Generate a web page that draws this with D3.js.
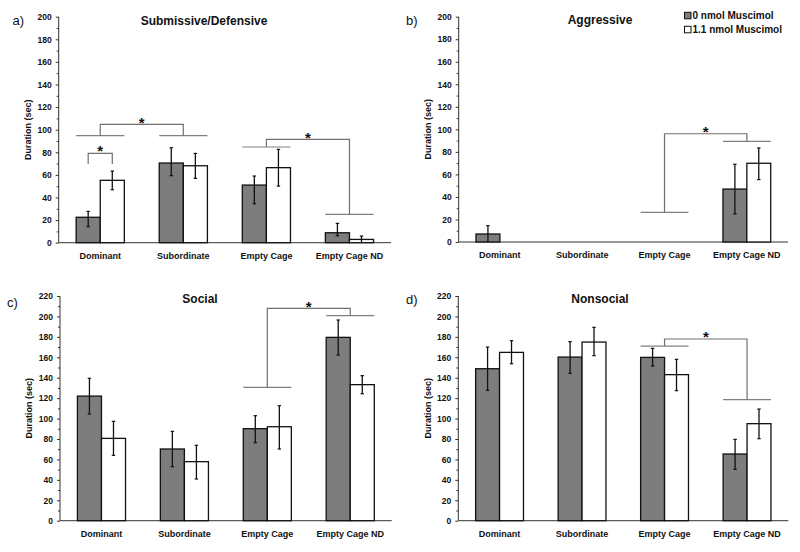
<!DOCTYPE html>
<html>
<head>
<meta charset="utf-8">
<script src="https://cdn.jsdelivr.net/npm/d3@7"></script>
<style>
  html, body { margin: 0; padding: 0; background: #fff; }
  svg { display: block; font-family: "Liberation Sans", Arial, sans-serif; }
</style>
</head>
<body>
<svg id="chart" width="800" height="552"></svg>
<script>
// ---------------- DATA ----------------
const categories = ["Dominant", "Subordinate", "Empty Cage", "Empty Cage ND"];
const seriesNames = ["0 nmol Muscimol", "1.1 nmol Muscimol"];

const ticks200 = [0, 20, 40, 60, 80, 100, 120, 140, 160, 180, 200];
const ticks220 = [0, 20, 40, 60, 80, 100, 120, 140, 160, 180, 200, 220];

// a) Submissive/Defensive
const subVehicle   = [22.5, 70.5, 51.0, 8.8];
const subVehicleLo = [14.2, 59.3, 34.5, 6.2];
const subVehicleHi = [27.7, 84.0, 59.0, 17.1];
const subMuscimol   = [55.2, 68.1, 66.4, 2.9];
const subMuscimolLo = [46.9, 56.9, 50.1, 0.0];
const subMuscimolHi = [63.4, 79.0, 82.6, 5.9];

// b) Aggressive
const aggVehicle   = [7.1, 0, 0, 47.0];
const aggVehicleLo = [0.0, 0, 0, 24.9];
const aggVehicleHi = [14.5, 0, 0, 69.0];
const aggMuscimol   = [0, 0, 0, 69.9];
const aggMuscimolLo = [0, 0, 0, 55.4];
const aggMuscimolHi = [0, 0, 0, 83.5];

// c) Social
const socVehicle   = [122.0, 70.2, 90.1, 179.5];
const socVehicleLo = [104.4, 52.9, 76.4, 162.2];
const socVehicleHi = [139.4, 87.5, 102.8, 196.5];
const socMuscimol   = [80.6, 57.8, 92.0, 133.2];
const socMuscimolLo = [64.0, 40.8, 70.2, 124.3];
const socMuscimolHi = [97.3, 73.8, 112.6, 142.0];

// d) Nonsocial
const nonVehicle   = [148.8, 160.2, 159.9, 65.3];
const nonVehicleLo = [127.6, 144.3, 151.4, 50.3];
const nonVehicleHi = [170.0, 175.3, 168.7, 79.6];
const nonMuscimol   = [164.8, 174.9, 143.0, 95.0];
const nonMuscimolLo = [153.7, 161.6, 127.3, 80.3];
const nonMuscimolHi = [176.2, 189.3, 158.0, 109.3];

// significance annotations (values in data units)
const subGroupLines = [[0, 94.7], [1, 94.7], [2, 84.7], [3, 25.0]];
const subBrackets   = [[0, 1, 104.7], [2, 3, 91.4]];
const subWithin     = [[0, 79.0, 69.6]];
const aggGroupLines = [[2, 26.3], [3, 89.3]];
const aggBrackets   = [[2, 3, 96.1]];
const socGroupLines = [[2, 130.5], [3, 200.7]];
const socBrackets   = [[2, 3, 207.9]];
const nonGroupLines = [[2, 171.0], [3, 118.5]];
const nonBrackets   = [[2, 3, 177.9]];

// ---------------- LAYOUT ----------------
const panels = [
  { label: "a)", title: "Submissive/Defensive", ticks: ticks200,
    v: [subVehicle, subVehicleLo, subVehicleHi], m: [subMuscimol, subMuscimolLo, subMuscimolHi],
    lines: subGroupLines, brackets: subBrackets, within: subWithin,
    x0: 58.7, x1: 391, yT: 16.7, yB: 242.7, titleX: 204, titleY: 24.5, labX: 12.5, labY: 24.5, ylabX: 30.5 },
  { label: "b)", title: "Aggressive", ticks: ticks200,
    v: [aggVehicle, aggVehicleLo, aggVehicleHi], m: [aggMuscimol, aggMuscimolLo, aggMuscimolHi],
    lines: aggGroupLines, brackets: aggBrackets, within: [],
    x0: 458.7, x1: 788, yT: 16.7, yB: 242, titleX: 600, titleY: 23.5, labX: 406, labY: 24.5, ylabX: 430.5, legend: true },
  { label: "c)", title: "Social", ticks: ticks220,
    v: [socVehicle, socVehicleLo, socVehicleHi], m: [socMuscimol, socMuscimolLo, socMuscimolHi],
    lines: socGroupLines, brackets: socBrackets, within: [],
    x0: 60, x1: 391.7, yT: 296, yB: 520.7, titleX: 200, titleY: 302.5, labX: 7, labY: 306.5, ylabX: 32 },
  { label: "d)", title: "Nonsocial", ticks: ticks220,
    v: [nonVehicle, nonVehicleLo, nonVehicleHi], m: [nonMuscimol, nonMuscimolLo, nonMuscimolHi],
    lines: nonGroupLines, brackets: nonBrackets, within: [],
    x0: 458.3, x1: 788.3, yT: 296, yB: 520.7, titleX: 600, titleY: 302.5, labX: 406, labY: 303.5, ylabX: 431 }
];

const svg = d3.select("#chart");
const GRAY = "#7d7d7d";
const LINEGRAY = "#808080";
const AX = "#333";

panels.forEach(p => {
  const g = svg.append("g");
  const yMax = d3.max(p.ticks);
  const y = d3.scaleLinear().domain([0, yMax]).range([p.yB, p.yT]);
  const x = d3.scaleBand().domain(categories).range([p.x0, p.x1]).paddingInner(0.42).paddingOuter(0.21);
  const xs = d3.scaleBand().domain(seriesNames).range([0, x.bandwidth()]);

  // minor ticks
  const minor = d3.range(0, yMax + 0.1, 10).filter(t => p.ticks.indexOf(t) < 0);
  g.append("g").attr("transform", `translate(${p.x0},0)`)
    .call(d3.axisLeft(y).tickValues(minor).tickSize(2).tickFormat(""))
    .call(s => s.select(".domain").remove())
    .call(s => s.selectAll("line").attr("stroke", AX));

  // y axis
  const ya = g.append("g").attr("transform", `translate(${p.x0},0)`)
    .call(d3.axisLeft(y).tickValues(p.ticks).tickSize(3).tickSizeOuter(0).tickPadding(4));
  ya.select(".domain").attr("stroke", AX).attr("d", `M0,${p.yT}V${p.yB}`);
  ya.selectAll("line").attr("stroke", AX);
  ya.selectAll("text").attr("font-size", 8.5).attr("font-weight", "bold").attr("fill", "#111")
    .attr("font-family", "'Liberation Sans', Arial, sans-serif");

  // x axis
  const xa = g.append("g").attr("transform", `translate(0,${p.yB})`)
    .call(d3.axisBottom(x).tickSize(0).tickPadding(10));
  xa.select(".domain").attr("stroke", AX).attr("d", `M${p.x0},0H${p.x1}`);
  xa.selectAll("text").attr("font-size", 9).attr("font-weight", "bold").attr("fill", "#111")
    .attr("font-family", "'Liberation Sans', Arial, sans-serif");

  // bars
  const series = [p.v, p.m];
  series.forEach((s, si) => {
    const name = seriesNames[si];
    categories.forEach((c, ci) => {
      const val = s[0][ci];
      const bx = x(c) + xs(name);
      if (val > 0) {
        g.append("rect")
          .attr("x", bx).attr("y", y(val))
          .attr("width", xs.bandwidth()).attr("height", y(0) - y(val))
          .attr("fill", si === 0 ? GRAY : "#fff")
          .attr("stroke", "#111").attr("stroke-width", 1.3);
      }
    });
  });
  // error bars
  series.forEach((s, si) => {
    const name = seriesNames[si];
    categories.forEach((c, ci) => {
      const lo = s[1][ci], hi = s[2][ci];
      if (hi <= lo) return;
      const cx = x(c) + xs(name) + xs.bandwidth() / 2;
      g.append("line").attr("x1", cx).attr("x2", cx).attr("y1", y(lo)).attr("y2", y(hi))
        .attr("stroke", "#111").attr("stroke-width", 1.3);
      [lo, hi].forEach(v => {
        if (v <= 0) return;
        g.append("line").attr("x1", cx - 1.7).attr("x2", cx + 1.7).attr("y1", y(v)).attr("y2", y(v))
          .attr("stroke", "#111").attr("stroke-width", 1.2);
      });
    });
  });

  // significance: group lines
  const lineY = {};
  p.lines.forEach(([ci, v]) => {
    lineY[ci] = v;
    g.append("line").attr("x1", x(categories[ci])).attr("x2", x(categories[ci]) + x.bandwidth())
      .attr("y1", y(v)).attr("y2", y(v)).attr("stroke", LINEGRAY).attr("stroke-width", 1.2);
  });
  const star = (cx, topPx) => {
    g.append("text").attr("x", cx).attr("y", topPx - 5 + 0.55 * 15)
      .attr("text-anchor", "middle").attr("font-size", 15).attr("font-weight", "bold").attr("fill", "#111")
      .text("*");
  };
  p.brackets.forEach(([a, b, top]) => {
    const xa_ = x(categories[a]) + x.bandwidth() / 2;
    const xb_ = x(categories[b]) + x.bandwidth() / 2;
    g.append("path")
      .attr("d", `M${xa_},${y(lineY[a])}V${y(top)}H${xb_}V${y(lineY[b])}`)
      .attr("fill", "none").attr("stroke", "#707070").attr("stroke-width", 1.2);
    star((xa_ + xb_) / 2, y(top));
  });
  p.within.forEach(([ci, top, bottom]) => {
    const c = categories[ci];
    const x1 = x(c) + xs(seriesNames[0]) + xs.bandwidth() / 2;
    const x2 = x(c) + xs(seriesNames[1]) + xs.bandwidth() / 2;
    g.append("path")
      .attr("d", `M${x1},${y(bottom)}V${y(top)}H${x2}V${y(bottom)}`)
      .attr("fill", "none").attr("stroke", "#707070").attr("stroke-width", 1.2);
    star((x1 + x2) / 2, y(top) - 1);
  });

  // titles and labels
  g.append("text").attr("x", p.titleX).attr("y", p.titleY).attr("text-anchor", "middle")
    .attr("font-size", 12).attr("font-weight", "bold").attr("fill", "#111").text(p.title);
  g.append("text").attr("x", p.labX).attr("y", p.labY)
    .attr("font-size", 13).attr("fill", "#111").text(p.label);
  g.append("text")
    .attr("transform", `translate(${p.ylabX},${(p.yT + p.yB) / 2}) rotate(-90)`)
    .attr("text-anchor", "middle").attr("font-size", 9).attr("font-weight", "bold").attr("fill", "#111")
    .text("Duration (sec)");

  if (p.legend) {
    const lg = g.append("g");
    seriesNames.forEach((n, i) => {
      const ly = 12.3 + i * 14;
      lg.append("rect").attr("x", 684.5).attr("y", ly).attr("width", 6.5).attr("height", 6.5)
        .attr("fill", i === 0 ? GRAY : "#fff").attr("stroke", "#111").attr("stroke-width", 1);
      lg.append("text").attr("x", 692.5).attr("y", ly + 7)
        .attr("font-size", 10).attr("font-weight", "bold").attr("fill", "#111").text(n);
    });
  }
});
</script>
</body>
</html>
